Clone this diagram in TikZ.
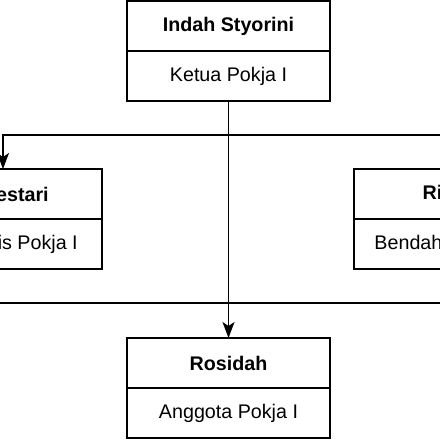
\documentclass[tikz,border=0pt]{standalone}
\usepackage{fontspec}
\setmainfont{Liberation Sans}
\usetikzlibrary{arrows.meta,positioning}

\begin{document}
\begin{tikzpicture}[
  x=1pt, y=1pt,
  font=\fontsize{19.7}{23}\selectfont,
  namebox/.style={draw, line width=1.3pt, minimum width=203pt, minimum height=50pt, inner sep=0pt, outer sep=0pt, font=\fontsize{19.7}{23}\selectfont\bfseries},
  rolebox/.style={draw, line width=1.3pt, minimum width=203pt, minimum height=50pt, inner sep=0pt, outer sep=0pt},
  link/.style={line width=1.3pt, -{Stealth[length=16pt,width=12pt,inset=4pt]}},
  plain/.style={line width=1.3pt},
]
\useasboundingbox (0,0) rectangle (440,-440);
\clip (0,0) rectangle (440,-440);

% ketua
\node[namebox] (ketuaN) at (228.5,-26) {Indah Styorini};
\node[rolebox] (ketuaR) at (228.5,-76) {Ketua Pokja I};
% sekretaris
\node[namebox] (sekrN) at (0.5,-194) {Sri Lestari};
\node[rolebox] (sekrR) at (0.5,-244) {Sekretaris Pokja I};
% bendahara
\node[namebox] (bendN) at (455.5,-194) {Riyanti};
\node[rolebox] (bendR) at (455.5,-244) {Bendahara Pokja I};
% anggota
\node[namebox] (anggN) at (228.5,-363) {Rosidah};
\node[rolebox] (anggR) at (228.5,-413) {Anggota Pokja I};

% lines
\coordinate (bus) at (228.5,-135);
\coordinate (busR) at (450,-135);
\coordinate (lowL) at (-10,-303);
\coordinate (lowR) at (450,-303);
\draw[link] (ketuaR.south) -- (anggN.north);
\draw[link] (ketuaR.south) -- (bus) -| ([xshift=2.5pt]sekrN.north);
\draw[plain] (bus) -- (busR);
\draw[plain] (lowL) -- (lowR);

\end{tikzpicture}
\end{document}
